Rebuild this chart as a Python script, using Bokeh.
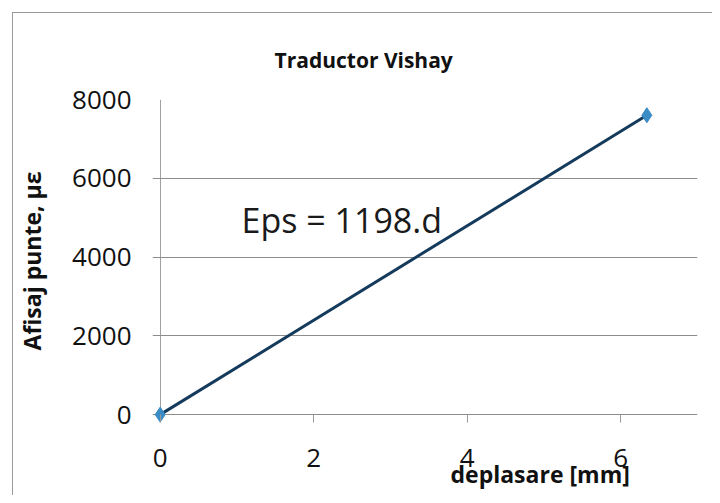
from bokeh.plotting import figure
from bokeh.models import Range1d, FixedTicker, Label, Title, InlineStyleSheet
from bokeh.embed import file_html
from bokeh.resources import INLINE

# data
deplasare = [0, 6.34]
afisaj = [0, 7600]
x_ticks = [0, 2, 4, 6]
y_ticks = [0, 2000, 4000, 6000, 8000]
title_text = "Traductor Vishay"
x_label = "deplasare [mm]"
y_label = "Afisaj punte, με"
eq_text = "Eps = 1198.d"

FONT = "Open Sans"

border_css = InlineStyleSheet(css="""
:host::after {
  content: ""; position: absolute; left: 12px; top: 12px; width: 700px; height: 483px;
  border-top: 1.5px solid #9a9a9a; border-left: 1.5px solid #9a9a9a;
  box-sizing: border-box; pointer-events: none; z-index: 5;
}
""")

W, H = 712, 495
p = figure(width=W, height=H, output_backend="svg", toolbar_location=None,
           x_range=Range1d(-0.1, 7), y_range=Range1d(-200, 8000),
           min_border_left=152, min_border_right=W - 697, min_border_top=99,
           min_border_bottom=H - 422,
           stylesheets=[border_css])

p.outline_line_color = None
p.background_fill_color = "white"
p.border_fill_color = "white"

# title
p.title.text = title_text
p.title.align = "left"
p.title.offset = 122
p.title.text_font = FONT
p.title.text_font_style = "bold"
p.title.text_font_size = "21px"
p.title.text_color = "#111111"
p.title.standoff = 51

# grid: horizontal lines, plus the vertical value-axis line at x = 0
p.ygrid.grid_line_color = "#8c8c8c"
p.ygrid.grid_line_width = 1
p.ygrid.ticker = FixedTicker(ticks=y_ticks)
p.xgrid.ticker = FixedTicker(ticks=[0])
p.xgrid.grid_line_color = "#a0a0a0"
p.xgrid.grid_line_width = 1

# axes
p.xaxis.ticker = FixedTicker(ticks=x_ticks)
p.yaxis.ticker = FixedTicker(ticks=y_ticks)
for ax in (p.xaxis[0], p.yaxis[0]):
    ax.major_label_text_font = FONT
    ax.major_label_text_font_size = "26px"
    ax.major_label_text_color = "#111111"
    ax.minor_tick_line_color = None
    ax.axis_line_color = None

p.yaxis.major_tick_line_color = None
p.yaxis.major_tick_in = 0
p.yaxis.major_tick_out = 0
p.yaxis.major_label_standoff = 21
p.yaxis.axis_label = y_label
p.yaxis.axis_label_text_font = FONT
p.yaxis.axis_label_text_font_style = "bold"
p.yaxis.axis_label_text_font_size = "23px"
p.yaxis.axis_label_text_color = "#111111"
p.yaxis.axis_label_standoff = 21

p.xaxis.major_tick_line_color = "#999999"
p.xaxis.major_tick_in = 8
p.xaxis.major_tick_out = 0
p.xaxis.major_label_standoff = 26

# x axis label as a bottom title, placed to the right
p.add_layout(Title(text=x_label, align="left", offset=298, standoff=-28,
                   text_font=FONT, text_font_style="bold", text_font_size="23px",
                   text_color="#111111"), "below")

# data line + markers
p.line(deplasare, afisaj, line_color="#143a5c", line_width=3)
p.scatter(deplasare, afisaj, marker="diamond", size=15, fill_color="#3a8cc6",
          line_color="#3a8cc6")

# annotation
p.add_layout(Label(x=1.06, y=4950, text=eq_text, text_font=FONT,
                   text_font_size="34px", text_color="#1a1a1a",
                   text_baseline="middle", text_align="left"))

open("out.html", "w").write(file_html(p, INLINE))
